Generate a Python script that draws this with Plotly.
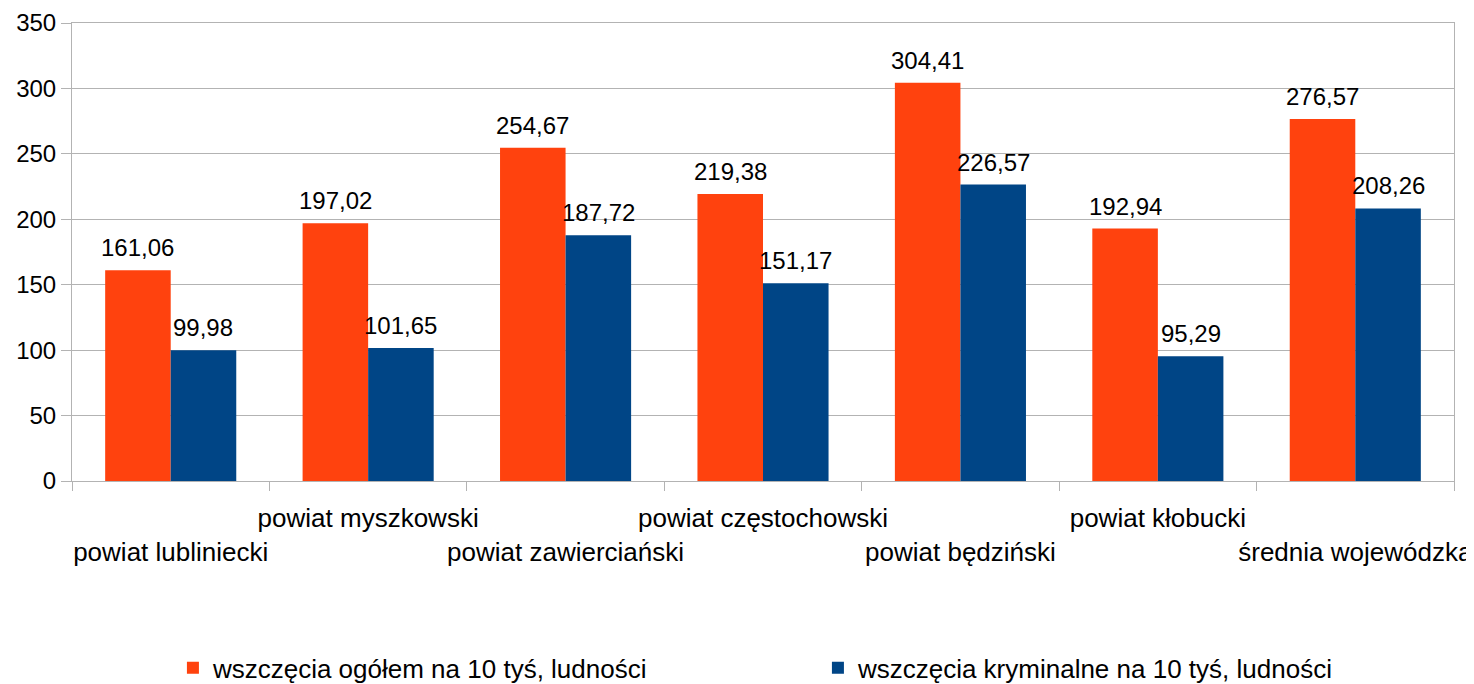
import plotly.graph_objects as go

categories = ["powiat lubliniecki", "powiat myszkowski", "powiat zawierciański",
              "powiat częstochowski", "powiat będziński", "powiat kłobucki",
              "średnia wojewódzka"]
series1_name = "wszczęcia ogółem na 10 tyś, ludności"
series1 = [161.06, 197.02, 254.67, 219.38, 304.41, 192.94, 276.57]
series2_name = "wszczęcia kryminalne na 10 tyś, ludności"
series2 = [99.98, 101.65, 187.72, 151.17, 226.57, 95.29, 208.26]
y_ticks = [0, 50, 100, 150, 200, 250, 300, 350]

# staggered category labels (LibreOffice style)
tick_text = [("<br>" + c) if i % 2 == 0 else c for i, c in enumerate(categories)]

FONT = "Liberation Sans, Arial, sans-serif"
GRID = "#b3b3b3"
BARGAP = 0.336

fig = go.Figure()
fig.add_trace(go.Bar(x=categories, y=series1, name=series1_name,
                     marker=dict(color="#ff420e", line=dict(width=0))))
fig.add_trace(go.Bar(x=categories, y=series2, name=series2_name,
                     marker=dict(color="#004586", line=dict(width=0))))

# value labels above each bar (decimal comma), positioned via axis coordinates
half = (1 - BARGAP) / 4
annotations = []
for offset, values in ((-half, series1), (half, series2)):
    for i, v in enumerate(values):
        annotations.append(dict(
            x=i + offset, y=v, xref="x", yref="y",
            text=f"{v:.2f}".replace(".", ","), showarrow=False,
            xanchor="center", yanchor="bottom", yshift=7,
            font=dict(size=24, family=FONT, color="#000000")))

fig.update_layout(
    width=1466, height=676,
    margin=dict(l=64, r=20, t=15, b=203, autoexpand=False),
    paper_bgcolor="white", plot_bgcolor="white",
    barmode="group", bargap=BARGAP, bargroupgap=0,
    separators=", ",
    font=dict(family=FONT, size=24, color="#000000"),
    showlegend=True,
    annotations=annotations,
    legend=dict(orientation="h", xref="container", x=0.1125, xanchor="left",
                yref="container", y=0.024, yanchor="middle", entrywidth=600,
                font=dict(size=26, family=FONT), itemwidth=30,
                traceorder="normal"),
    xaxis=dict(type="category", tickmode="array", tickvals=categories,
               ticktext=tick_text, tickson="boundaries", ticks="outside",
               ticklen=9, tickcolor=GRID, showline=True, linecolor=GRID,
               linewidth=1, mirror=True, showgrid=False, tickangle=0,
               automargin=False, ticklabelstandoff=14,
               tickfont=dict(size=26, family=FONT, color="#000000")),
    yaxis=dict(range=[0, 350], tickmode="array", tickvals=y_ticks,
               showgrid=True, gridcolor=GRID, gridwidth=1, ticks="outside",
               ticklen=10, tickcolor=GRID, showline=True, linecolor=GRID,
               linewidth=1, mirror=True, zeroline=False, automargin=False,
               tickfont=dict(size=24, family=FONT, color="#000000")),
)

fig.write_html("out.html")
